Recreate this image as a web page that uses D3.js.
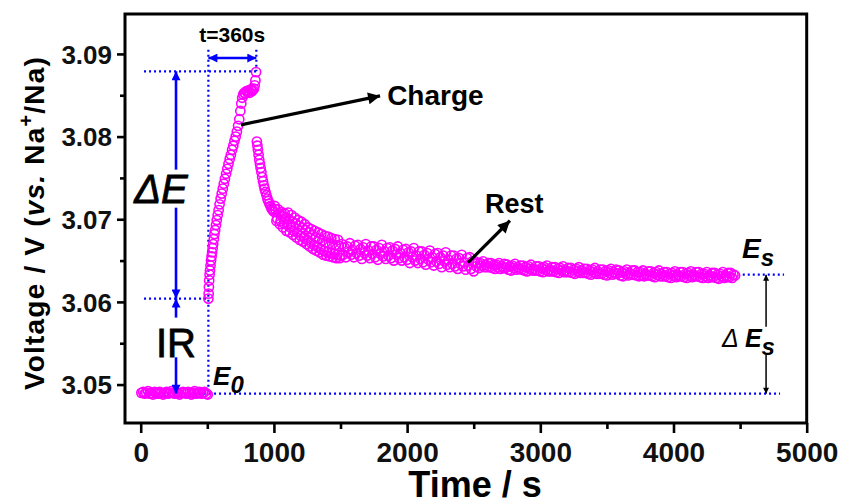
<!DOCTYPE html>
<html>
<head>
<meta charset="utf-8">
<script src="https://cdn.jsdelivr.net/npm/d3@7"></script>
<style>
  html, body { margin: 0; padding: 0; background: #fff; }
  svg { display: block; font-family: "Liberation Sans", Arial, Helvetica, sans-serif; }
</style>
</head>
<body>
<svg id="chart" width="845" height="504"></svg>
<script>
// ---- axis ticks ----
const xTicks = [0, 1000, 2000, 3000, 4000, 5000];
const xMinorTicks = [500, 1500, 2500, 3500, 4500];
const yTicks = [3.05, 3.06, 3.07, 3.08, 3.09];
const yMinorTicks = [3.055, 3.065, 3.075, 3.085];

// ---- measured potential, [time (s), voltage (V)] ----
// open-circuit rest before the current pulse
const openCircuit = [
  [5,3.0490],[18,3.0491],[30,3.0489],[42,3.0490],[55,3.0492],[68,3.0489],[80,3.0490],[92,3.0488],
  [105,3.0491],[118,3.0490],[130,3.0489],[142,3.0491],[155,3.0490],[168,3.0488],[180,3.0490],
  [192,3.0491],[205,3.0489],[218,3.0490],[230,3.0492],[242,3.0490],[255,3.0489],[268,3.0491],
  [280,3.0490],[292,3.0488],[305,3.0490],[318,3.0491],[330,3.0490],[342,3.0489],[355,3.0491],
  [368,3.0490],[380,3.0488],[392,3.0490],[405,3.0492],[418,3.0489],[430,3.0490],[442,3.0491],
  [455,3.0489],[468,3.0490],[480,3.0491],[492,3.0489],[503,3.0488]
];

// galvanostatic charge pulse
const charging = [
  [508,3.0604],[510,3.0610],[512,3.0618],[514,3.0626],[517,3.0633],[520,3.0638],[524,3.0644],
  [528,3.0650],[532,3.0655],[536,3.0660],[540,3.0665],[544,3.0670],[549,3.0676],[554,3.0682],
  [559,3.0687],[565,3.0693],[571,3.0699],[578,3.0705],[585,3.0711],[592,3.0718],[600,3.0725],
  [608,3.0731],[616,3.0737],[624,3.0743],[632,3.0749],[641,3.0755],[650,3.0761],[659,3.0767],
  [668,3.0773],[677,3.0778],[686,3.0784],[695,3.0789],[704,3.0795],[713,3.0800],[722,3.0806],
  [731,3.0813],[740,3.0821],[748,3.0831],[755,3.0840],[762,3.0847],[770,3.0851],[778,3.0853],
  [786,3.0852],[794,3.0855],[802,3.0854],[810,3.0856],[818,3.0853],[826,3.0857],[834,3.0855],
  [842,3.0856],[850,3.0858],[856,3.0862],[861,3.0868],[866,3.0878]
];

// relaxation after the pulse
const relaxation = [
  [872,3.0794],[876,3.0789],[880,3.0784],[885,3.0778],[890,3.0772],[895,3.0767],[900,3.0762],
  [906,3.0757],[912,3.0751],[918,3.0746],[924,3.0741],[930,3.0737],[937,3.0733],[944,3.0729],
  [951,3.0725],[958,3.0722],[966,3.0719],[974,3.0716],[982,3.0713],[990,3.0711],[1000,3.0709],
  [1006,3.0716],[1012,3.0712],[1019,3.0698],[1025,3.0701],[1031,3.0712],[1038,3.0707],[1044,3.0694],
  [1050,3.0698],[1056,3.0709],[1063,3.0704],[1069,3.0690],[1075,3.0695],[1081,3.0707],[1088,3.0702],
  [1094,3.0686],[1100,3.0693],[1106,3.0708],[1113,3.0700],[1119,3.0684],[1125,3.0690],[1131,3.0705],
  [1138,3.0697],[1144,3.0681],[1150,3.0686],[1156,3.0702],[1163,3.0695],[1169,3.0678],[1175,3.0684],
  [1181,3.0699],[1188,3.0692],[1194,3.0675],[1200,3.0680],[1206,3.0697],[1213,3.0690],[1219,3.0673],
  [1225,3.0678],[1231,3.0694],[1238,3.0687],[1244,3.0670],[1250,3.0675],[1256,3.0690],[1263,3.0684],
  [1269,3.0667],[1275,3.0672],[1281,3.0688],[1288,3.0681],[1294,3.0664],[1300,3.0669],[1306,3.0686],
  [1313,3.0678],[1319,3.0662],[1325,3.0667],[1331,3.0684],[1338,3.0676],[1344,3.0660],[1350,3.0664],
  [1356,3.0682],[1363,3.0674],[1369,3.0657],[1375,3.0662],[1381,3.0680],[1388,3.0672],[1394,3.0656],
  [1400,3.0660],[1406,3.0679],[1413,3.0671],[1419,3.0655],[1425,3.0659],[1431,3.0677],[1438,3.0670],
  [1444,3.0654],[1450,3.0658],[1456,3.0676],[1463,3.0669],[1469,3.0653],[1475,3.0657],[1481,3.0675],
  [1488,3.0668],[1494,3.0653],[1500,3.0656],
  [1510,3.0670],[1520,3.0657],[1530,3.0666],[1540,3.0654],[1550,3.0667],[1560,3.0660],[1570,3.0671],
  [1580,3.0657],[1590,3.0663],[1600,3.0654],[1610,3.0668],[1620,3.0659],[1630,3.0669],[1640,3.0656],
  [1650,3.0664],[1660,3.0652],[1670,3.0666],[1680,3.0659],[1690,3.0670],[1700,3.0656],[1710,3.0662],
  [1720,3.0653],[1730,3.0667],[1740,3.0658],[1750,3.0667],[1760,3.0654],[1770,3.0663],[1780,3.0651],
  [1790,3.0665],[1800,3.0658],[1810,3.0669],[1820,3.0655],[1830,3.0661],[1840,3.0652],[1850,3.0665],
  [1860,3.0656],[1870,3.0666],[1880,3.0653],[1890,3.0662],[1900,3.0650],[1910,3.0664],[1920,3.0657],
  [1930,3.0667],[1940,3.0653],[1950,3.0659],[1960,3.0650],[1970,3.0663],[1980,3.0654],[1990,3.0664],
  [2000,3.0651],[2010,3.0660],[2020,3.0647],[2030,3.0661],[2040,3.0654],[2050,3.0665],[2060,3.0650],
  [2070,3.0656],[2080,3.0647],[2090,3.0661],[2100,3.0652],[2110,3.0661],[2120,3.0648],[2130,3.0657],
  [2140,3.0645],[2150,3.0659],[2160,3.0651],[2170,3.0662],[2180,3.0648],[2190,3.0654],[2200,3.0644],
  [2210,3.0658],[2220,3.0649],[2230,3.0659],[2240,3.0646],[2250,3.0654],[2260,3.0642],[2270,3.0656],
  [2280,3.0649],[2290,3.0660],[2300,3.0645],[2310,3.0651],[2320,3.0642],[2330,3.0656],[2340,3.0646],
  [2350,3.0656],[2360,3.0643],[2370,3.0652],[2380,3.0640],[2390,3.0653],[2400,3.0646],[2410,3.0657],
  [2420,3.0643],[2430,3.0648],[2440,3.0639],[2450,3.0653],[2460,3.0644],[2470,3.0654],[2480,3.0640],
  [2490,3.0649],[2500,3.0637],
  [2510,3.0649],[2520,3.0643],[2530,3.0647],[2540,3.0641],[2550,3.0647],[2560,3.0644],[2570,3.0649],
  [2580,3.0642],[2590,3.0645],[2600,3.0642],[2610,3.0647],[2620,3.0642],[2630,3.0647],[2640,3.0641],
  [2650,3.0645],[2660,3.0640],[2670,3.0645],[2680,3.0642],[2690,3.0647],[2700,3.0640],[2710,3.0643],
  [2720,3.0641],[2730,3.0646],[2740,3.0641],[2750,3.0645],[2760,3.0639],[2770,3.0643],[2780,3.0638],
  [2790,3.0644],[2800,3.0641],[2810,3.0646],[2820,3.0639],[2830,3.0642],[2840,3.0640],[2850,3.0644],
  [2860,3.0639],[2870,3.0644],[2880,3.0638],[2890,3.0642],[2900,3.0637],[2910,3.0643],[2920,3.0640],
  [2930,3.0645],[2940,3.0638],[2950,3.0640],[2960,3.0638],[2970,3.0643],[2980,3.0638],[2990,3.0643],
  [3000,3.0637],[3010,3.0641],[3020,3.0636],[3030,3.0642],[3040,3.0639],[3050,3.0644],[3060,3.0637],
  [3070,3.0639],[3080,3.0637],[3090,3.0642],[3100,3.0637],[3110,3.0642],[3120,3.0636],[3130,3.0640],
  [3140,3.0635],[3150,3.0641],[3160,3.0638],[3170,3.0643],[3180,3.0636],[3190,3.0638],[3200,3.0636],
  [3210,3.0641],[3220,3.0636],[3230,3.0641],[3240,3.0635],[3250,3.0639],[3260,3.0634],[3270,3.0640],
  [3280,3.0637],[3290,3.0642],[3300,3.0635],[3310,3.0638],[3320,3.0635],[3330,3.0640],[3340,3.0635],
  [3350,3.0640],[3360,3.0634],[3370,3.0638],[3380,3.0633],[3390,3.0639],[3400,3.0636],[3410,3.0641],
  [3420,3.0634],[3430,3.0637],[3440,3.0634],[3450,3.0639],[3460,3.0634],[3470,3.0639],[3480,3.0633],
  [3490,3.0637],[3500,3.0632],[3510,3.0638],[3520,3.0635],[3530,3.0640],[3540,3.0633],[3550,3.0636],
  [3560,3.0634],[3570,3.0639],[3580,3.0634],[3590,3.0638],[3600,3.0632],[3610,3.0636],[3620,3.0631],
  [3630,3.0637],[3640,3.0634],[3650,3.0639],[3660,3.0632],[3670,3.0635],[3680,3.0633],[3690,3.0638],
  [3700,3.0633],[3710,3.0638],[3720,3.0632],[3730,3.0636],[3740,3.0631],[3750,3.0636],[3760,3.0633],
  [3770,3.0638],[3780,3.0631],[3790,3.0634],[3800,3.0632],[3810,3.0637],[3820,3.0632],[3830,3.0637],
  [3840,3.0631],[3850,3.0635],[3860,3.0630],[3870,3.0636],[3880,3.0633],[3890,3.0638],[3900,3.0631],
  [3910,3.0634],[3920,3.0631],[3930,3.0636],[3940,3.0631],[3950,3.0636],[3960,3.0630],[3970,3.0634],
  [3980,3.0629],[3990,3.0635],[4000,3.0632],[4010,3.0637],[4020,3.0630],[4030,3.0633],[4040,3.0631],
  [4050,3.0636],[4060,3.0631],[4070,3.0636],[4080,3.0630],[4090,3.0634],[4100,3.0629],[4110,3.0635],
  [4120,3.0632],[4130,3.0637],[4140,3.0630],[4150,3.0633],[4160,3.0631],[4170,3.0636],[4180,3.0631],
  [4190,3.0636],[4200,3.0630],[4210,3.0634],[4220,3.0629],[4230,3.0634],[4240,3.0631],[4250,3.0636],
  [4260,3.0629],[4270,3.0632],[4280,3.0630],[4290,3.0635],[4300,3.0630],[4310,3.0635],[4320,3.0629],
  [4330,3.0633],[4340,3.0628],[4350,3.0634],[4360,3.0631],[4370,3.0636],[4380,3.0629],[4390,3.0632],
  [4400,3.0630],[4410,3.0635],[4420,3.0630],[4430,3.0635],[4440,3.0629],[4450,3.0633],[4462,3.0632]
];

// ---- characteristic potentials and pulse timing ----
const E0 = 3.0489;      // equilibrium potential before the pulse
const Eir = 3.0604;     // potential right after the IR jump
const Epeak = 3.0879;   // potential at the end of the pulse
const Es = 3.0633;      // steady-state potential after relaxation
const tStart = 508;     // pulse start (s)
const tPulse = 360;     // pulse duration (s)
const tEnd = tStart + tPulse;

// ---- layout ----
const svg = d3.select("#chart");
const x = d3.scaleLinear().domain([-118, 5000]).range([125, 806.7]);
const y = d3.scaleLinear().domain([3.04535, 3.09483]).range([423, 14]);

const BLUE = "#0000ff";
const MAGENTA = "#ff00ff";

// arrowheads
const defs = svg.append("defs");
function head(id, color, len, wid) {
  defs.append("marker")
    .attr("id", id)
    .attr("viewBox", "0 0 10 10")
    .attr("refX", 10).attr("refY", 5)
    .attr("markerWidth", len).attr("markerHeight", wid)
    .attr("markerUnits", "userSpaceOnUse")
    .attr("orient", "auto-start-reverse")
    .append("path")
    .attr("d", "M0,0 L10,5 L0,10 Z")
    .attr("fill", color);
}
head("hBlue", BLUE, 14, 9);
head("hBlack", "#000", 20, 12);
head("hBlackThin", "#000", 11, 6);

// ---- axes ----
const gx = svg.append("g").attr("transform", `translate(0,${y.range()[0]})`);
gx.call(d3.axisBottom(x).tickValues(xMinorTicks).tickSize(6).tickFormat(""));
gx.append("g").call(d3.axisBottom(x).tickValues(xTicks).tickSize(10).tickFormat(d3.format("d")));
gx.selectAll(".domain").remove();
gx.selectAll("line").attr("stroke", "#000").attr("stroke-width", 2.6);
gx.selectAll("text")
  .attr("y", 39).attr("dy", 0)
  .attr("fill", "#111")
  .style("font-size", "28px").style("font-weight", "bold");

const gy = svg.append("g").attr("transform", `translate(${x.range()[0]},0)`);
gy.call(d3.axisLeft(y).tickValues(yMinorTicks).tickSize(5).tickFormat(""));
gy.append("g").call(d3.axisLeft(y).tickValues(yTicks).tickSize(8).tickFormat(d3.format(".2f")));
gy.selectAll(".domain").remove();
gy.selectAll("line").attr("stroke", "#000").attr("stroke-width", 2.6);
gy.selectAll("text")
  .attr("x", -13).attr("dy", "0.35em")
  .attr("fill", "#111")
  .style("font-size", "26px").style("font-weight", "bold");

// frame
svg.append("rect")
  .attr("x", x.range()[0]).attr("y", y.range()[1])
  .attr("width", x.range()[1] - x.range()[0])
  .attr("height", y.range()[0] - y.range()[1])
  .attr("fill", "none").attr("stroke", "#000").attr("stroke-width", 3);

// axis titles
svg.append("text")
  .attr("x", 475).attr("y", 497)
  .attr("text-anchor", "middle")
  .style("font-size", "36px").style("font-weight", "bold")
  .text("Time / s");

const yTitle = svg.append("text")
  .attr("transform", "translate(44,223) rotate(-90)")
  .attr("text-anchor", "middle")
  .style("font-size", "28px").style("font-weight", "bold")
  .style("letter-spacing", "1.2px");
yTitle.append("tspan").text("Voltage / V (");
yTitle.append("tspan").style("font-style", "italic").text("vs.");
yTitle.append("tspan").text(" Na");
yTitle.append("tspan").attr("dy", -11).style("font-size", "20px").text("+");
yTitle.append("tspan").attr("dy", 11).text("/Na)");

// ---- guide lines ----
const guides = svg.append("g")
  .attr("stroke", BLUE).attr("stroke-width", 2.2)
  .attr("stroke-dasharray", "2,3").attr("fill", "none");
function dotted(t1, v1, t2, v2) {
  guides.append("line")
    .attr("x1", x(t1)).attr("y1", y(v1))
    .attr("x2", x(t2)).attr("y2", y(v2));
}
dotted(tStart, 3.0905, tStart, E0);
dotted(tEnd, 3.0905, tEnd, Epeak);
dotted(25, Epeak, tEnd, Epeak);
dotted(25, Eir, tStart, Eir);
dotted(25, E0, 4800, E0);
dotted(4520, Es, 4830, Es);

// ---- data points ----
const points = openCircuit.concat(charging, relaxation);
svg.append("g")
  .selectAll("circle")
  .data(points)
  .join("circle")
  .attr("cx", d => x(d[0]))
  .attr("cy", d => y(d[1]))
  .attr("r", 4.6)
  .attr("fill", "none")
  .attr("stroke", MAGENTA)
  .attr("stroke-width", 1.6);

// ---- annotation arrows ----
function arrow(t1, v1, t2, v2, color, width, startHead, endHead) {
  const l = svg.append("line")
    .attr("x1", x(t1)).attr("y1", y(v1))
    .attr("x2", x(t2)).attr("y2", y(v2))
    .attr("stroke", color).attr("stroke-width", width);
  if (startHead) l.attr("marker-start", `url(#${startHead})`);
  if (endHead) l.attr("marker-end", `url(#${endHead})`);
}
const tArrow = 265;   // time position of the ΔE / IR arrows
// pulse duration
arrow(tStart, 3.0895, tEnd, 3.0895, BLUE, 2.6, "hBlue", "hBlue");
// ΔE
arrow(tArrow, Epeak, tArrow, 3.0760, BLUE, 2.6, "hBlue", null);
arrow(tArrow, 3.0714, tArrow, Eir, BLUE, 2.6, null, "hBlue");
// IR
arrow(tArrow, Eir, tArrow, 3.0581, BLUE, 2.6, "hBlue", null);
arrow(tArrow, 3.0533, tArrow, E0, BLUE, 2.6, null, "hBlue");
// ΔEs
const tEs = 4695;
arrow(tEs, Es, tEs, 3.0570, "#000", 1.5, "hBlackThin", null);
arrow(tEs, 3.0536, tEs, E0, "#000", 1.5, null, "hBlackThin");
// pointers to the two stages
arrow(753, 3.08142, 1797, 3.08492, "#000", 3.2, null, "hBlack");
arrow(2457, 3.06474, 2772, 3.06982, "#000", 3.2, null, "hBlack");

// ---- annotation text ----
function label(t, v, str, size, opts = {}) {
  const el = svg.append("text")
    .attr("x", x(t)).attr("y", y(v))
    .attr("text-anchor", opts.anchor || "start")
    .style("font-size", size + "px")
    .style("font-weight", opts.weight || "bold")
    .style("font-style", opts.style || "normal")
    .text(str);
  if (opts.outline) el.attr("stroke", "#000").attr("stroke-width", opts.outline);
  return el;
}
label(687, 3.09144, "t=360s", 21, { anchor: "middle" });
label(152, 3.07197, "\u0394E", 40, { anchor: "middle", weight: "normal", style: "italic", outline: 0.8 });
label(265, 3.05333, "IR", 40, { anchor: "middle", weight: "normal", outline: 0.8 });
label(1850, 3.08382, "Charge", 28);
label(2585, 3.07076, "Rest", 27);

const e0 = label(543, 3.04995, "E", 26, { style: "italic" });
e0.append("tspan").attr("dy", 8).style("font-size", "24px").text("0");

const es = label(4515, 3.06531, "E", 28, { style: "italic" });
es.append("tspan").attr("dy", 8).style("font-size", "24px").text("s");

const des = label(4365, 3.05454, "\u0394", 25, { style: "italic", weight: "normal" });
des.append("tspan").attr("dx", 6).style("font-weight", "bold").text("E");
des.append("tspan").attr("dy", 8).style("font-weight", "bold").style("font-size", "24px").text("s");
</script>
</body>
</html>
